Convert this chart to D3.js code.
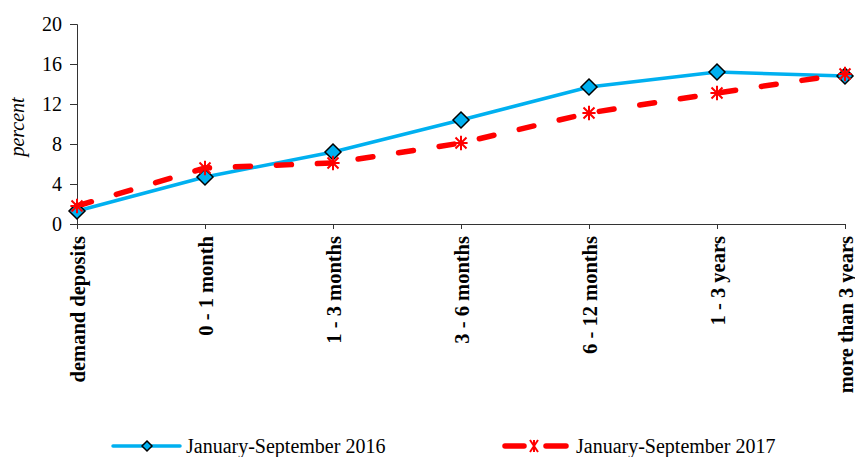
<!DOCTYPE html>
<html>
<head>
<meta charset="utf-8">
<script src="https://cdn.jsdelivr.net/npm/d3@7"></script>
<style>
  body { margin: 0; background: #fff; }
  svg { display: block; font-family: "Liberation Serif", "Times New Roman", serif; }
</style>
</head>
<body>
<svg id="chart"></svg>
<script>
var categories = ["demand deposits", "0 - 1 month", "1 - 3 months", "3 - 6 months", "6 - 12 months", "1 - 3 years", "more than 3 years"];
var values2016 = [1.3, 4.7, 7.2, 10.4, 13.7, 15.2, 14.8];
var values2017 = [1.8, 5.6, 6.1, 8.1, 11.1, 13.1, 15.0];
var yTicks = [0, 4, 8, 12, 16, 20];
var seriesNames = ["January-September 2016", "January-September 2017"];

var width = 855, height = 457;
var plotLeft = 77, plotRight = 845, plotTop = 24, plotBottom = 224;

var chart = d3.select('#chart')
  .attr('width', width)
  .attr('height', height);

var xScale = d3.scalePoint()
  .domain(categories)
  .range([plotLeft, plotRight]);

var yScale = d3.scaleLinear()
  .domain([0, 20])
  .range([plotBottom, plotTop]);

// y axis
var yAxis = chart.append('g')
  .attr('transform', 'translate(' + plotLeft + ',0)')
  .call(d3.axisLeft(yScale).tickValues(yTicks).tickSize(7).tickPadding(8));
yAxis.select('.domain').attr('stroke', '#333');
yAxis.selectAll('line').attr('stroke', '#333');
yAxis.selectAll('text')
  .style('font-size', '20px')
  .style('font-family', '"Liberation Serif", serif')
  .attr('fill', '#000');

// x axis
var xAxis = chart.append('g')
  .attr('transform', 'translate(0,' + plotBottom + ')')
  .call(d3.axisBottom(xScale).tickSize(5).tickSizeOuter(0));
xAxis.select('.domain').attr('stroke', '#333');
xAxis.selectAll('line').attr('stroke', '#333');
xAxis.selectAll('text')
  .style('font-size', '20.5px')
  .style('font-weight', 'bold')
  .style('font-family', '"Liberation Serif", serif')
  .attr('fill', '#000')
  .style('text-anchor', 'end')
  .attr('transform', 'rotate(-90)')
  .attr('x', -12)
  .attr('y', 0)
  .attr('dy', '0.35em');

chart.append('text')
  .attr('transform', 'translate(24,127) rotate(-90)')
  .attr('text-anchor', 'middle')
  .style('font-size', '20px')
  .style('font-style', 'italic')
  .text('percent');

var line = d3.line()
  .x(function(d, i){ return xScale(categories[i]); })
  .y(function(d){ return yScale(d); });

var blue = '#00B0F0', red = '#FF0000';

chart.append('path')
  .datum(values2016)
  .attr('d', line)
  .attr('fill', 'none')
  .attr('stroke', blue)
  .attr('stroke-width', 3.5);

chart.append('path')
  .datum(values2017)
  .attr('d', line)
  .attr('fill', 'none')
  .attr('stroke', red)
  .attr('stroke-width', 5.5)
  .attr('stroke-linecap', 'round')
  .attr('stroke-dasharray', '15 26');

function diamond(g, x, y, r){
  g.append('path')
    .attr('d', 'M' + x + ',' + (y - r) + 'L' + (x + r) + ',' + y + 'L' + x + ',' + (y + r) + 'L' + (x - r) + ',' + y + 'Z')
    .attr('fill', blue)
    .attr('stroke', '#000')
    .attr('stroke-width', 1.5);
}

function star(g, x, y, r){
  var d = 'M' + (x - r) + ',' + (y - r) + 'L' + (x + r) + ',' + (y + r) +
    'M' + (x - r) + ',' + (y + r) + 'L' + (x + r) + ',' + (y - r) +
    'M' + x + ',' + (y - r * 1.3) + 'L' + x + ',' + (y + r * 1.3) +
    'M' + (x - r * 1.2) + ',' + y + 'L' + (x + r * 1.2) + ',' + y;
  g.append('path')
    .attr('d', d)
    .attr('fill', 'none')
    .attr('stroke', red)
    .attr('stroke-width', 2);
}

var markers2016 = chart.append('g');
values2016.forEach(function(v, i){
  diamond(markers2016, xScale(categories[i]), yScale(v), 8);
});
var markers2017 = chart.append('g');
values2017.forEach(function(v, i){
  star(markers2017, xScale(categories[i]), yScale(v), 5.5);
});

// legend
var legend = chart.append('g');
var ly = 446;
legend.append('line')
  .attr('x1', 113).attr('x2', 180).attr('y1', ly).attr('y2', ly)
  .attr('stroke', blue).attr('stroke-width', 3.5).attr('stroke-linecap', 'round');
diamond(legend, 147, ly, 5);
legend.append('text')
  .attr('x', 186).attr('y', ly + 7)
  .style('font-size', '20px')
  .text(seriesNames[0]);

legend.append('line')
  .attr('x1', 505).attr('x2', 524).attr('y1', ly).attr('y2', ly)
  .attr('stroke', red).attr('stroke-width', 5.5).attr('stroke-linecap', 'round');
legend.append('line')
  .attr('x1', 546).attr('x2', 566).attr('y1', ly).attr('y2', ly)
  .attr('stroke', red).attr('stroke-width', 5.5).attr('stroke-linecap', 'round');
legend.append('path')
  .attr('d', 'M530,440L538,452M530,452L538,440M534,440L534,452')
  .attr('stroke', red).attr('stroke-width', 2).attr('fill', 'none');
legend.append('text')
  .attr('x', 576).attr('y', ly + 7)
  .style('font-size', '20px')
  .text(seriesNames[1]);
</script>
</body>
</html>
